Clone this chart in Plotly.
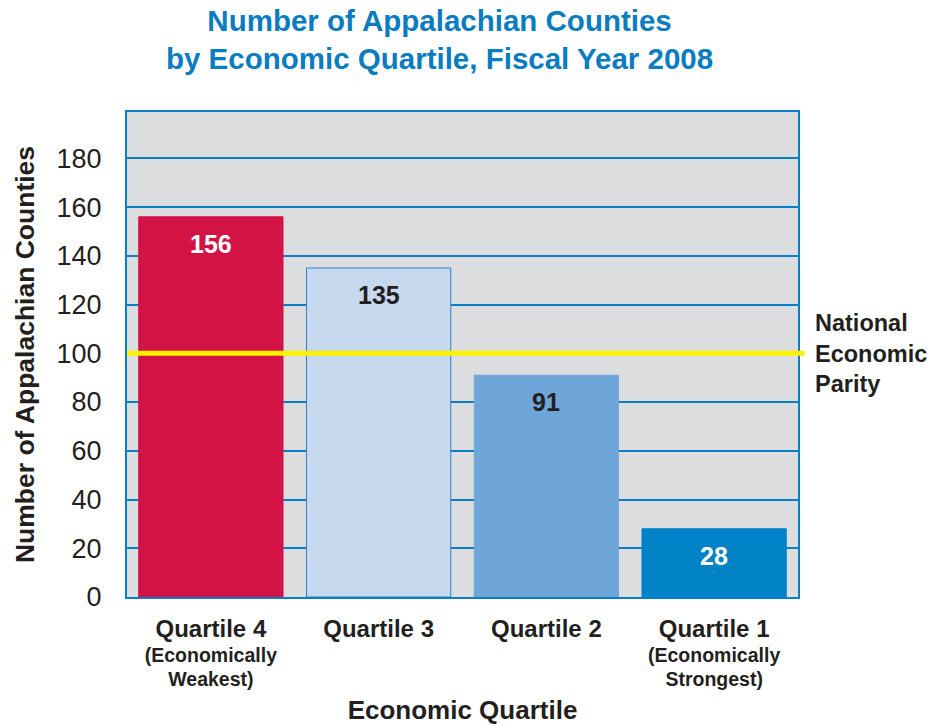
import plotly.graph_objects as go

categories = ["Quartile 4", "Quartile 3", "Quartile 2", "Quartile 1"]
sublabels = ["(Economically<br>Weakest)", "", "", "(Economically<br>Strongest)"]
counts = [156, 135, 91, 28]
bar_colors = ["#d31245", "#c6d9ef", "#6fa6d9", "#0083c6"]
bar_line_colors = ["#d31245", "#2f7fc4", "#6fa6d9", "#0083c6"]
label_colors = ["#ffffff", "#231f20", "#231f20", "#ffffff"]
parity_value = 100
y_ticks = [0, 20, 40, 60, 80, 100, 120, 140, 160, 180]

TXT = "#231f20"
BLUE = "#0a7fc6"
FONT = "Liberation Sans, Arial, sans-serif"

ticktext = []
for c, s in zip(categories, sublabels):
    t = f"<b><span style='font-size:24px'>{c}</span></b>"
    if s:
        t += f"<br><b><span style='font-size:19.5px'>{s}</span></b>"
    ticktext.append(t)

fig = go.Figure(go.Bar(
    x=categories, y=counts,
    marker=dict(color=bar_colors, line=dict(color=bar_line_colors, width=1)),
    width=0.86, hoverinfo="skip",
))

for c, v, col in zip(categories, counts, label_colors):
    fig.add_annotation(x=c, y=v, text=f"<b>{v}</b>", showarrow=False,
                       yanchor="middle", yshift=-27,
                       font=dict(size=25, color=col, family=FONT))

fig.add_shape(type="line", xref="paper", yref="y", x0=0, x1=1.01,
              y0=parity_value, y1=parity_value,
              line=dict(color="#fff200", width=5), layer="above")
fig.add_annotation(xref="paper", yref="y", x=1.022, y=parity_value,
                   text="<b>National<br>Economic<br>Parity</b>", showarrow=False,
                   xanchor="left", yanchor="middle", align="left",
                   font=dict(size=23.5, color=TXT, family=FONT))

# title as annotation (paper coords above plot area)
fig.add_annotation(xref="paper", yref="paper", x=0.466, y=1.226,
                   text="<b>Number of Appalachian Counties<br>by Economic Quartile, Fiscal Year 2008</b>",
                   showarrow=False, xanchor="center", yanchor="top", align="center",
                   font=dict(size=29.5, color="#0a7cc1", family=FONT))

fig.update_layout(
    width=934, height=725,
    margin=dict(l=127, r=136, t=112, b=128),
    paper_bgcolor="white", plot_bgcolor="#dcdddf",
    font=dict(family=FONT, color=TXT),
    showlegend=False,
)

fig.update_xaxes(
    tickmode="array", tickvals=categories, ticktext=ticktext,
    tickfont=dict(size=19, color=TXT, family=FONT),
    showline=True, linecolor=BLUE, linewidth=2, mirror=True,
    showgrid=False, ticks="", ticklabelstandoff=15, automargin=False,
    title=dict(text="<b>Economic Quartile</b>", font=dict(size=26, color=TXT, family=FONT), standoff=16),
)
fig.update_yaxes(
    range=[0, 199], tickvals=y_ticks,
    tickfont=dict(size=27, color=TXT, family=FONT),
    showline=True, linecolor=BLUE, linewidth=2, mirror=True,
    showgrid=True, gridcolor=BLUE, gridwidth=2, automargin=False,
    zeroline=False, ticks="", ticklabelstandoff=18,
    title=dict(text="<b>Number of Appalachian Counties</b>", font=dict(size=26.5, color=TXT, family=FONT), standoff=14),
)

fig.write_html("out.html")
